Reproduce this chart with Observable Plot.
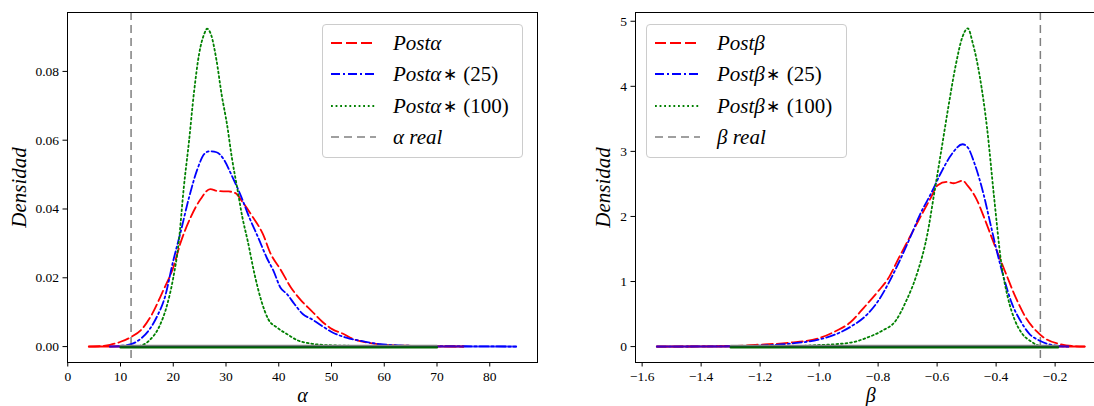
<!DOCTYPE html>
<html><head><meta charset="utf-8">
<script src="https://cdn.jsdelivr.net/npm/d3@7"></script>
<script src="https://cdn.jsdelivr.net/npm/@observablehq/plot@0.6"></script>
<style>
html,body{margin:0;padding:0;background:#fff;}
#wrap{position:relative;width:1094px;height:406px;overflow:hidden;background:#fff;}
.panel{position:absolute;top:0;height:406px;}
.panel svg{max-width:none !important;}
.legend{position:absolute;top:24px;width:201px;height:134px;border:1px solid #cccccc;border-radius:4px;background:rgba(255,255,255,0.8);box-sizing:border-box;font-family:"Liberation Serif",serif;font-size:21px;color:#000;}
.legend .row{position:absolute;left:0;height:30px;line-height:30px;white-space:nowrap;}
.legend svg{position:absolute;top:10px;}
.legend span.t{position:absolute;left:70px;top:0;}
.legend .ast{font-style:normal;font-size:0.8em;position:relative;top:-0.05em;padding:0 0.08em;}
</style></head>
<body><div id="wrap"></div>
<script>
// ---------- data: α panel ----------
const alphaPostX = [4,6,8,10,12,14,16,18,20,21.3,23.3,25.2,27,28.5,30.5,31.8,33.1,35.1,37,38.4,40.3,42.3,44.3,46.2,48.2,50.2,52.1,54.1,57.4,60,66,75];
const alphaPostY = [0,0.0001,0.0005,0.0014,0.0028,0.005,0.0095,0.016,0.023,0.0298,0.0376,0.0429,0.0458,0.0452,0.0451,0.0446,0.0421,0.0376,0.0327,0.0272,0.0225,0.0172,0.0133,0.0104,0.0073,0.005,0.0038,0.0022,0.001,0.0005,0.0002,0];
const alphaB25X = [8,10,12,14,15.5,17,18.4,20,21.3,23,24.6,25.9,26.9,28.2,29.5,31.1,32.8,34.4,36.1,37.7,39,40.3,41.6,43,44.6,46.2,48.2,50.2,52.8,56.1,59.3,66,75,85];
const alphaB25Y = [0,0.0002,0.0007,0.0025,0.005,0.009,0.0143,0.025,0.0327,0.0434,0.0517,0.056,0.0568,0.0565,0.0546,0.0497,0.0439,0.0376,0.0317,0.0259,0.022,0.0172,0.0152,0.0123,0.0094,0.008,0.006,0.0041,0.0026,0.0015,0.0007,0.0002,0.0001,0];
const alphaB100X = [10,13.4,15.4,17.4,18.7,20,21,22,23,23.9,24.9,25.9,26.4,27.2,28.2,29.2,30.2,31.1,32.1,33.1,34.1,35.4,36.7,38,39.7,41.6,43.6,45.6,49.5,60,70];
const alphaB100Y = [0,0.0002,0.0017,0.006,0.0114,0.02,0.0298,0.0463,0.0599,0.0735,0.0851,0.091,0.0924,0.0905,0.0832,0.0730,0.0645,0.055,0.0463,0.0376,0.0308,0.0211,0.0133,0.008,0.0055,0.0036,0.0018,0.001,0.0004,0.0001,0];
const alphaReal = 12;
const alphaBaseRedX = [4,75], alphaBaseBlueX = [8,85], alphaBaseGreenX = [10,70];
const alphaXTicks = [0,10,20,30,40,50,60,70,80];
const alphaYTicks = [0,0.02,0.04,0.06,0.08];

// ---------- data: β panel ----------
const betaPostX = [-1.55,-1.4,-1.3,-1.217,-1.1,-1.0,-0.943,-0.895,-0.848,-0.8,-0.764,-0.729,-0.693,-0.657,-0.621,-0.598,-0.568,-0.544,-0.514,-0.496,-0.467,-0.437,-0.407,-0.371,-0.336,-0.3,-0.264,-0.229,-0.181,-0.14,-0.1];
const betaPostY = [0,0.003,0.008,0.026,0.06,0.13,0.24,0.37,0.6,0.85,1.06,1.37,1.68,1.99,2.29,2.48,2.53,2.51,2.55,2.47,2.27,1.94,1.58,1.17,0.78,0.45,0.24,0.11,0.036,0.008,0];
const betaB25X = [-1.55,-1.4,-1.3,-1.2,-1.098,-1.0,-0.943,-0.895,-0.836,-0.8,-0.764,-0.729,-0.693,-0.657,-0.621,-0.586,-0.55,-0.514,-0.496,-0.473,-0.443,-0.419,-0.395,-0.371,-0.348,-0.318,-0.288,-0.252,-0.21,-0.155];
const betaB25Y = [0,0.002,0.006,0.015,0.046,0.11,0.19,0.3,0.5,0.7,0.98,1.3,1.66,2.04,2.35,2.68,2.96,3.11,3.06,2.81,2.35,1.88,1.42,1.01,0.68,0.4,0.2,0.09,0.025,0];
const betaB100X = [-1.3,-1.1,-1.018,-0.895,-0.836,-0.788,-0.74,-0.705,-0.669,-0.633,-0.61,-0.586,-0.562,-0.538,-0.514,-0.496,-0.479,-0.455,-0.431,-0.407,-0.383,-0.36,-0.336,-0.312,-0.282,-0.25,-0.2];
const betaB100Y = [0,0.005,0.02,0.06,0.14,0.24,0.4,0.7,1.11,1.73,2.35,3.01,3.68,4.3,4.76,4.89,4.66,4.14,3.37,2.3,1.3,0.75,0.4,0.2,0.08,0.01,0];
const betaReal = -0.25;
const betaBaseRedX = [-1.55,-0.1], betaBaseBlueX = [-1.55,-0.155], betaBaseGreenX = [-1.3,-0.19];
const betaXTicks = [-1.6,-1.4,-1.2,-1.0,-0.8,-0.6,-0.4,-0.2];
const betaYTicks = [0,1,2,3,4,5];

const zero2 = [0,0];
const FONT = '"Liberation Serif", serif';
const sty = {
  red:   {stroke:"#ff0000", strokeWidth:1.8, strokeDasharray:"11,4"},
  blue:  {stroke:"#0000ff", strokeWidth:1.8, strokeDasharray:"9,3,2,3"},
  green: {stroke:"#008000", strokeWidth:1.8, strokeDasharray:"1.8,2.8"},
  gray:  {stroke:"#808080", strokeWidth:1.5, strokeDasharray:"8,5"}
};

function panel(o){
  return Plot.plot({
    width:o.width, height:406, marginLeft:o.marginLeft, marginRight:o.marginRight, marginTop:12, marginBottom:44,
    x:{domain:o.xDomain}, y:{domain:o.yDomain},
    style:{fontFamily:FONT, fontSize:"13.5px", color:"#000", background:"transparent", overflow:"visible", maxWidth:"none"},
    marks:[
      Plot.ruleX([o.real], {...sty.gray}),
      Plot.line(o.s1y, {x:o.s1x, y:o.s1y, curve:"monotone-x", ...sty.red}),
      Plot.line(o.s2y, {x:o.s2x, y:o.s2y, curve:"monotone-x", ...sty.blue}),
      Plot.line(o.s3y, {x:o.s3x, y:o.s3y, curve:"monotone-x", ...sty.green}),
      Plot.line(zero2, {x:o.bRed, y:zero2, stroke:"#ff0000", strokeWidth:2}),
      Plot.line(zero2, {x:o.bBlue, y:zero2, stroke:"#0000ff", strokeWidth:2, strokeOpacity:0.75}),
      Plot.line(zero2, {x:o.bGreen, y:zero2, stroke:"#808080", strokeWidth:1.5, dy:-1}),
      Plot.line(zero2, {x:o.bGreen, y:zero2, stroke:"#006400", strokeWidth:2.2, dy:0.8}),
      Plot.axisX({ticks:o.xTicks, tickFormat:o.xFmt, tickSize:4.5, tickPadding:4, label:null}),
      Plot.axisY({ticks:o.yTicks, tickFormat:o.yFmt, tickSize:4.5, tickPadding:4, label:null}),
      Plot.frame({stroke:"#000", strokeWidth:1}),
      Plot.text(["Densidad"], {frameAnchor:"left", textAnchor:"middle", rotate:-90, dx:o.yLabelDx, fontSize:21, fontStyle:"italic", fontFamily:FONT}),
      Plot.text([o.xLabel], {frameAnchor:"bottom", textAnchor:"middle", dy:39, fontSize:20, fontStyle:"italic", fontFamily:FONT})
    ]
  });
}

const wrap = document.getElementById("wrap");
function place(node, left, width){ const d=document.createElement("div"); d.className="panel"; d.style.left=left+"px"; d.style.width=width+"px"; d.appendChild(node); wrap.appendChild(d); }

place(panel({width:560, marginLeft:67, marginRight:23, xDomain:[-0.05,89.05], yDomain:[-0.004625,0.097125],
  s1x:alphaPostX, s1y:alphaPostY, s2x:alphaB25X, s2y:alphaB25Y, s3x:alphaB100X, s3y:alphaB100Y,
  bRed:alphaBaseRedX, bBlue:alphaBaseBlueX, bGreen:alphaBaseGreenX, real:alphaReal,
  xTicks:alphaXTicks, yTicks:alphaYTicks, xFmt:d3.format("d"), yFmt:d3.format(".2f"), xLabel:"α", yLabelDx:-48}), 0, 560);

place(panel({width:570, marginLeft:90, marginRight:9.5, xDomain:[-1.6225,-0.0275], yDomain:[-0.2445,5.1345],
  s1x:betaPostX, s1y:betaPostY, s2x:betaB25X, s2y:betaB25Y, s3x:betaB100X, s3y:betaB100Y,
  bRed:betaBaseRedX, bBlue:betaBaseBlueX, bGreen:betaBaseGreenX, real:betaReal,
  xTicks:betaXTicks, yTicks:betaYTicks, xFmt:d3.format(".1f"), yFmt:d3.format("d"), xLabel:"β", yLabelDx:-32}), 545, 570);

// ---------- legends ----------
const alphaLabels = ["<i>Postα</i>", "<i>Postα</i><span class='ast'>∗</span> (25)", "<i>Postα</i><span class='ast'>∗</span> (100)", "<i>α real</i>"];
const betaLabels  = ["<i>Postβ</i>", "<i>Postβ</i><span class='ast'>∗</span> (25)", "<i>Postβ</i><span class='ast'>∗</span> (100)", "<i>β real</i>"];
const legendStyles = [sty.red, sty.blue, sty.green, sty.gray];
const rowCenters = [19, 50, 82, 113];
function legend(left, labels){
  const box=document.createElement("div"); box.className="legend"; box.style.left=left+"px";
  labels.forEach((lab,i)=>{
    const s=legendStyles[i];
    const row=document.createElement("div"); row.className="row"; row.style.top=(rowCenters[i]-15-1)+"px"; row.style.width="100%";
    row.innerHTML = `<svg width="60" height="10" style="left:8px"><line x1="0" x2="45" y1="5" y2="5" stroke="${s.stroke}" stroke-width="${s.strokeWidth}" stroke-dasharray="${s.strokeDasharray}"/></svg><span class="t">${lab}</span>`;
    box.appendChild(row);
  });
  wrap.appendChild(box);
}
legend(322, alphaLabels);
legend(646, betaLabels);
</script></body></html>
